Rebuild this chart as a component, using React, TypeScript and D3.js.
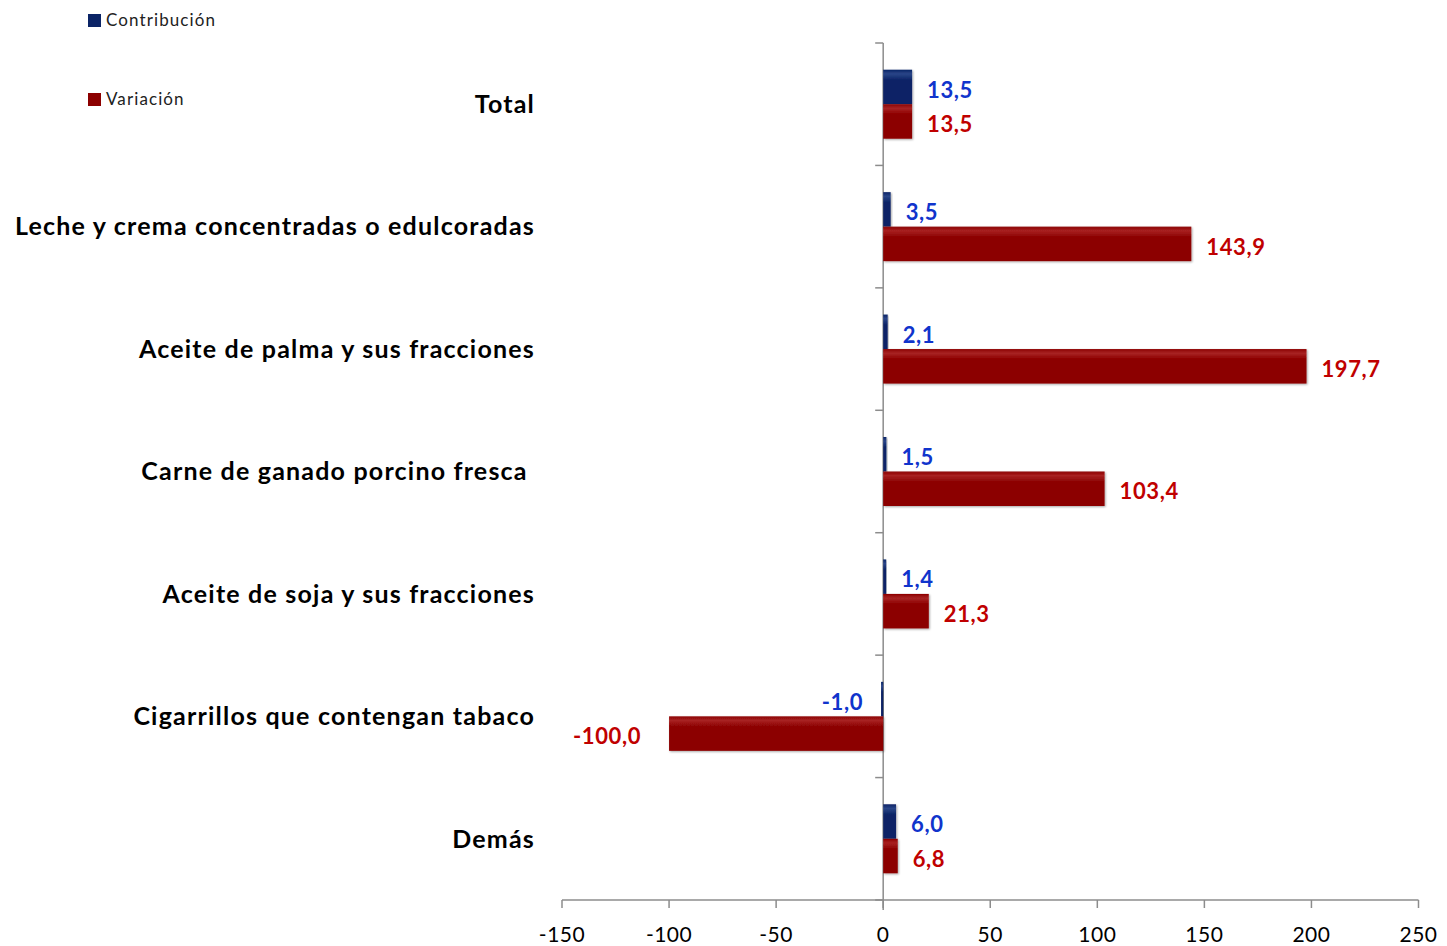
import React from "react";
import * as d3 from "d3";

const categories = [
  "Total",
  "Leche y crema concentradas o edulcoradas",
  "Aceite de palma y sus fracciones",
  "Carne de ganado porcino fresca ",
  "Aceite de soja y sus fracciones",
  "Cigarrillos que contengan tabaco",
  "Demás",
];
const contribucion = [13.5, 3.5, 2.1, 1.5, 1.4, -1.0, 6.0];
const variacion = [13.5, 143.9, 197.7, 103.4, 21.3, -100.0, 6.8];
const xTicks = [-150, -100, -50, 0, 50, 100, 150, 200, 250];
const seriesNames = ["Contribución", "Variación"];

const W = 1447;
const H = 946;
const FONT = "Lato, 'Open Sans', sans-serif";

const fmt = (v: number) => v.toFixed(1).replace(".", ",");

export default function App() {
  const x = d3.scaleLinear().domain([-150, 250]).range([562, 1418.5]);
  const y = d3.scaleBand<string>().domain(categories).range([43, 900]).paddingInner(0).paddingOuter(0);
  const barH = 34.5;
  const x0 = x(0);
  const axisY = 900;

  const barColors = ["#0b2466", "#8c0000"];
  const barLight = ["#2a4588", "#a82222"];
  const labelColors = ["#1034cc", "#c00000"];

  const series = [contribucion, variacion];

  return (
    <svg width={W} height={H} style={{ display: "block", position: "absolute", left: 0, top: 0 }} fontFamily={FONT}>
      <defs>
        {barColors.map((c, i) => (
          <linearGradient key={i} id={`g${i}`} x1="0" y1="0" x2="0" y2="1">
            <stop offset="0" stopColor={c} />
            <stop offset="0.12" stopColor={barLight[i]} />
            <stop offset="0.3" stopColor={c} />
            <stop offset="1" stopColor={c} />
          </linearGradient>
        ))}
        <filter id="sh" x="-10%" y="-30%" width="130%" height="160%">
          <feGaussianBlur in="SourceAlpha" stdDeviation="1.2" />
          <feOffset dx="1" dy="1" result="b" />
          <feComponentTransfer>
            <feFuncA type="linear" slope="0.35" />
          </feComponentTransfer>
          <feMerge>
            <feMergeNode />
            <feMergeNode in="SourceGraphic" />
          </feMerge>
        </filter>
      </defs>
      <rect width={W} height={H} fill="#fff" />

      {/* axes */}
      <g stroke="#8c8c8c" strokeWidth={1.5}>
        <line x1={x(-150)} x2={x(250)} y1={axisY} y2={axisY} />
        {xTicks.map((t) => (
          <line key={t} x1={x(t)} x2={x(t)} y1={axisY} y2={axisY + 8} />
        ))}
        <line x1={x0} x2={x0} y1={43} y2={axisY + 10} />
        {categories.map((c) => (
          <line key={c} x1={x0 - 8} x2={x0} y1={y(c)!} y2={y(c)!} />
        ))}
        <line x1={x0 - 8} x2={x0} y1={900} y2={900} />
      </g>

      {/* x tick labels */}
      {xTicks.map((t) => (
        <text key={t} x={x(t)} y={942} textAnchor="middle" fontSize={21} fill="#000" letterSpacing={0.5}>
          {t}
        </text>
      ))}

      {/* bars */}
      {categories.map((c, ci) => {
        const cy = y(c)! + y.bandwidth() / 2;
        return (
          <g key={c}>
            {series.map((s, si) => {
              const v = s[ci];
              const top = si === 0 ? cy - barH : cy;
              const xa = Math.min(x(v), x0);
              const w = Math.abs(x(v) - x0);
              return (
                <rect key={si} x={xa} y={top} width={Math.max(w, 1.5)} height={barH} fill={`url(#g${si})`} filter="url(#sh)" />
              );
            })}
            {series.map((s, si) => {
              const v = s[ci];
              const ly = si === 0 ? cy - barH / 2 + 3 : cy + barH / 2 + 3;
              const neg = v < 0;
              const lx = neg ? x(v) - (si === 1 ? 28 : 18) : x(v) + 15;
              return (
                <text
                  key={"l" + si}
                  x={lx}
                  y={ly}
                  dy="0.35em"
                  textAnchor={neg ? "end" : "start"}
                  fontSize={22}
                  fontWeight="bold"
                  letterSpacing={0.6}
                  fill={labelColors[si]}
                >
                  {fmt(v)}
                </text>
              );
            })}
            <text
              x={535}
              y={cy}
              dy="0.35em"
              textAnchor="end"
              fontSize={25}
              fontWeight="bold"
              letterSpacing={1.2}
              fill="#000"
              style={{ whiteSpace: "pre" }}
            >
              {c}
            </text>
          </g>
        );
      })}

      {/* legend */}
      {seriesNames.map((n, i) => (
        <g key={n} transform={`translate(88, ${i === 0 ? 14 : 93})`}>
          <rect width={13} height={13} fill={barColors[i]} />
          <text x={18} y={6.5} dy="0.35em" fontSize={17} letterSpacing={1.1} fill="#222">
            {n}
          </text>
        </g>
      ))}
    </svg>
  );
}
